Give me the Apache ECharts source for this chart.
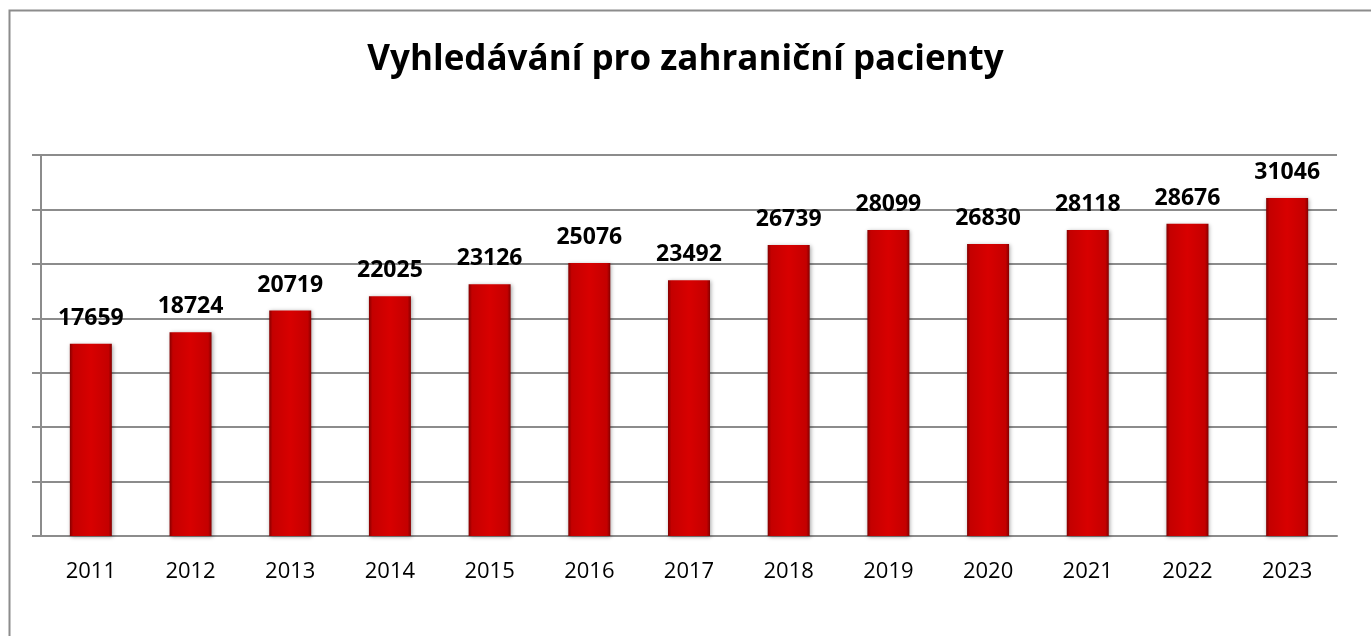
<!DOCTYPE html>
<html>
<head>
<meta charset="utf-8">
<script src="https://cdn.jsdelivr.net/npm/echarts@6/dist/echarts.min.js"></script>
<style>
  html, body { margin: 0; padding: 0; background: #fff; }
  #chart { width: 1371px; height: 636px; }
</style>
</head>
<body>
<div id="chart"></div>
<script>
const years = ['2011', '2012', '2013', '2014', '2015', '2016', '2017', '2018', '2019', '2020', '2021', '2022', '2023']
const searches = [17659, 18724, 20719, 22025, 23126, 25076, 23492, 26739, 28099, 26830, 28118, 28676, 31046]

const chart = echarts.init(document.getElementById('chart'))

const barColor = new echarts.graphic.LinearGradient(0, 0, 1, 0, [
  { offset: 0, color: '#850000' },
  { offset: 0.08, color: '#c40000' },
  { offset: 0.5, color: '#d80000' },
  { offset: 0.92, color: '#c40000' },
  { offset: 1, color: '#850000' }
])

const option = {
  animation: false,
  graphic: [
    {
      type: 'rect',
      shape: { x: 9.5, y: 10.5, width: 1400, height: 700 },
      style: { fill: 'none', stroke: '#8c8c8c', lineWidth: 2 },
      z: -1
    }
  ],
  title: {
    text: 'Vyhledávání pro zahraniční pacienty',
    left: 'center',
    top: 38,
    textStyle: {
      fontFamily: 'Open Sans',
      fontSize: 35,
      fontWeight: 'bold',
      color: '#000'
    }
  },
  grid: {
    left: 41,
    right: 34,
    top: 155,
    bottom: 100
  },
  xAxis: {
    type: 'category',
    data: years,
    axisLine: { lineStyle: { color: '#8c8c8c', width: 2 } },
    axisTick: { show: false },
    axisLabel: {
      margin: 25,
      fontFamily: 'Open Sans',
      fontSize: 22,
      color: '#000'
    }
  },
  yAxis: {
    type: 'value',
    min: 0,
    max: 35000,
    interval: 5000,
    axisLabel: { show: false },
    axisLine: { show: true, lineStyle: { color: '#8c8c8c', width: 2 } },
    axisTick: { show: true, length: 9, lineStyle: { color: '#8c8c8c', width: 2 } },
    splitLine: { lineStyle: { color: '#8c8c8c', width: 2 } }
  },
  series: [
    {
      type: 'bar',
      data: searches,
      barWidth: 42,
      itemStyle: {
        color: barColor,
        shadowColor: 'rgba(0,0,0,0.35)',
        shadowBlur: 4,
        shadowOffsetX: 1,
        shadowOffsetY: 1
      },
      label: {
        show: true,
        position: 'top',
        distance: 14,
        fontFamily: 'Open Sans',
        fontSize: 23,
        fontWeight: 'bold',
        color: '#000'
      }
    }
  ]
}

chart.setOption(option)
</script>
</body>
</html>
